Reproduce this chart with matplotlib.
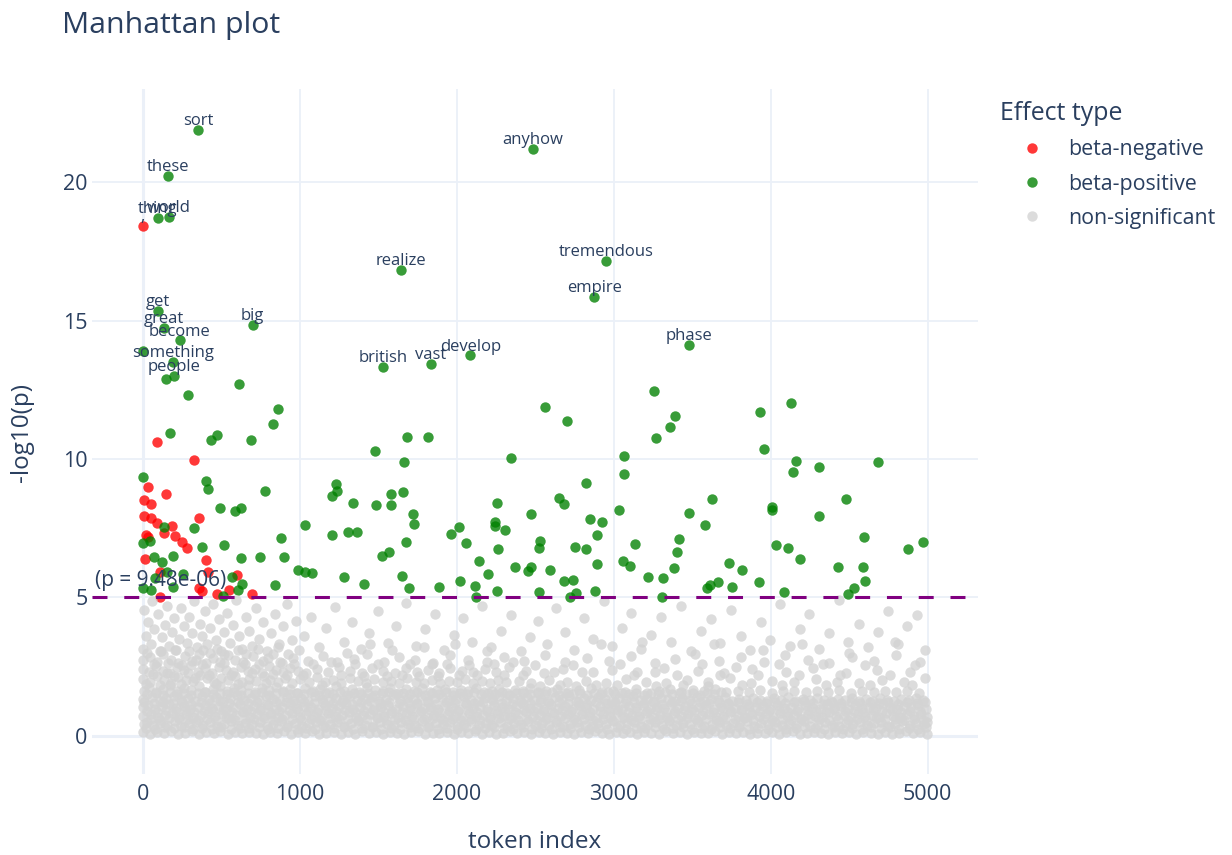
import matplotlib
matplotlib.use("Agg")
import matplotlib.pyplot as plt
from matplotlib.lines import Line2D

plt.rcParams['font.family'] = ['Open Sans', 'DejaVu Sans']

# --- data (token index, -log10 p) ---
threshold_p = 9.48e-06
threshold_y = 5.023

# labelled hits: word, token index, -log10(p), effect
top_hits = [
    ('sort', 352, 21.9, 'pos'), ('these', 159, 20.23, 'pos'), ('thing', 96, 18.71, 'pos'),
    ('world', 168, 18.73, 'pos'), (',', 0, 18.41, 'neg'), ('get', 96, 15.35, 'pos'),
    ('great', 136, 14.74, 'pos'), ('big', 701, 14.83, 'pos'), ('become', 236, 14.28, 'pos'),
    ('something', 195, 13.51, 'pos'), ('people', 199, 13.0, 'pos'), ('realize', 1645, 16.82, 'pos'),
    ('british', 1529, 13.31, 'pos'), ('vast', 1836, 13.44, 'pos'), ('develop', 2087, 13.74, 'pos'),
    ('anyhow', 2484, 21.21, 'pos'), ('tremendous', 2951, 17.15, 'pos'), ('empire', 2875, 15.86, 'pos'),
    ('phase', 3482, 14.11, 'pos'),
]

neg_points = [
    (94, 10.6), (324, 9.96), (31, 8.98), (150, 8.72), (6, 8.53), (53, 8.37), (8, 7.94), (55, 7.87),
    (89, 7.68), (357, 7.86), (189, 7.56), (137, 7.34), (23, 7.26), (36, 7.18), (204, 7.2), (248, 6.99),
    (282, 6.78), (17, 6.37), (403, 6.34), (110, 5.9), (416, 5.9), (603, 5.79), (361, 5.33), (376, 5.23),
    (471, 5.13), (548, 5.26), (694, 5.12), (108, 5.02),
]

pos_points = [
    (0, 13.91), (148, 12.88), (290, 12.3), (611, 12.69), (859, 11.8), (828, 11.28), (174, 10.93),
    (476, 10.85), (435, 10.67), (687, 10.68), (4, 9.33), (403, 9.21), (414, 8.91), (776, 8.85),
    (492, 8.21), (588, 8.11), (624, 8.23), (1031, 7.6), (1206, 7.25), (1206, 8.67), (1231, 9.08),
    (1240, 8.85), (330, 7.51), (134, 7.53), (4, 6.95), (46, 7.05), (379, 6.81), (520, 6.89),
    (878, 7.13), (196, 6.49), (75, 6.46), (121, 6.26), (626, 6.41), (749, 6.47), (898, 6.45),
    (991, 5.99), (1034, 5.9), (1076, 5.87), (843, 5.43), (257, 5.84), (155, 5.93), (78, 5.69),
    (4, 5.33), (51, 5.26), (569, 5.74), (609, 5.26), (634, 5.47), (513, 5.03), (195, 5.38),
    (1310, 7.35), (1363, 7.35), (1341, 8.42), (1280, 5.72), (1410, 5.47), (1482, 10.27), (1486, 8.32),
    (1526, 6.5), (1567, 6.64), (1580, 8.73), (1583, 8.33), (1660, 8.8), (1666, 9.9), (1685, 10.8),
    (1815, 10.78), (1724, 8.01), (1730, 7.65), (1675, 7.0), (1650, 5.78), (1698, 5.35), (1889, 5.38),
    (1962, 7.28), (2017, 7.53), (2061, 6.97), (2023, 5.59), (2117, 5.41), (2121, 5.0), (2144, 6.31),
    (2201, 5.84), (2246, 7.73), (2246, 7.58), (2259, 8.41), (2310, 7.43), (2263, 6.76), (2259, 5.22),
    (2344, 10.03), (2373, 6.09), (2454, 5.96), (2475, 6.08), (2475, 8.01), (2522, 6.77), (2532, 7.04),
    (2562, 11.86), (2592, 6.0), (2522, 5.2), (2654, 8.58), (2682, 8.37), (2703, 11.38), (2682, 5.58),
    (2743, 5.61), (2722, 5.02), (2758, 5.14), (2754, 6.83), (2822, 6.73), (2824, 9.13), (2849, 7.82),
    (2924, 7.71), (2896, 7.26), (2894, 6.2), (2883, 5.22), (3032, 8.15), (3068, 10.12), (3068, 9.47),
    (3057, 6.31), (3102, 6.14), (3136, 6.94), (3217, 5.74), (3254, 12.46), (3390, 11.56), (3359, 11.14),
    (3271, 10.77), (3932, 11.68), (3957, 10.37), (4129, 12.02), (4159, 9.94), (4142, 9.52), (3480, 8.06),
    (3624, 8.57), (3581, 7.62), (4008, 8.27), (4008, 8.16), (3414, 7.1), (3405, 6.62), (3386, 6.06),
    (3316, 5.7), (3307, 5.02), (3592, 5.33), (3613, 5.44), (3666, 5.54), (3732, 6.25), (3820, 5.99),
    (3755, 5.38), (3927, 5.57), (4034, 6.89), (4111, 6.78), (4087, 5.18), (4187, 6.39), (4310, 9.71),
    (4683, 9.88), (4310, 7.93), (4478, 8.54), (4429, 6.09), (4594, 7.18), (4588, 6.08), (4601, 5.6),
    (4529, 5.35), (4494, 5.11), (4876, 6.75), (4972, 6.99),
]

# non-significant tokens, estimated (dense band near 0, thinning upward)
gray_row1 = [
    (0, .12), (44, .06), (90, .15), (133, .08), (181, .18), (224, .05), (270, .11), (313, .16), (360, .07),
    (404, .13), (452, .09), (495, .17), (541, .05), (585, .12), (632, .08), (676, .15), (720, .1), (767, .06),
    (811, .14), (856, .09), (902, .17), (946, .05), (991, .12), (1035, .08), (1081, .16), (1125, .06),
    (1170, .11), (1216, .14), (1260, .07), (1306, .12), (1351, .05), (1395, .16), (1441, .09), (1486, .13),
    (1530, .06), (1576, .15), (1620, .1), (1666, .07), (1711, .13), (1755, .18), (1801, .06), (1846, .11),
    (1890, .08), (1936, .15), (1981, .05), (2025, .12), (2071, .09), (2116, .17), (2160, .07), (2206, .13),
    (2251, .06), (2295, .11), (2341, .16), (2386, .08), (2430, .12), (2476, .05), (2521, .14), (2565, .09),
    (2611, .07), (2656, .15), (2700, .11), (2746, .06), (2791, .13), (2835, .08), (2881, .16), (2926, .1),
    (2970, .05), (3016, .12), (3061, .08), (3105, .15), (3151, .07), (3196, .13), (3240, .1), (3286, .05),
    (3331, .16), (3375, .09), (3421, .12), (3466, .06), (3510, .14), (3556, .08), (3601, .11), (3645, .17),
    (3691, .06), (3736, .12), (3780, .09), (3826, .15), (3871, .05), (3915, .11), (3961, .08), (4006, .14),
    (4050, .07), (4096, .12), (4141, .16), (4185, .06), (4231, .1), (4276, .13), (4320, .08), (4366, .05),
    (4411, .15), (4455, .09), (4501, .12), (4546, .06), (4590, .14), (4636, .1), (4681, .07), (4725, .13),
    (4771, .05), (4816, .11), (4860, .16), (4906, .08), (4951, .12), (4996, .07),
]
gray_row1b = [
    (20, .28), (80, .25), (140, .31), (200, .27), (260, .3), (320, .24), (380, .29), (440, .26), (500, .32),
    (560, .25), (620, .29), (680, .27), (740, .31), (800, .24), (860, .28), (920, .3), (980, .26), (1040, .29),
    (1100, .25), (1160, .31), (1220, .27), (1280, .3), (1340, .24), (1400, .28), (1460, .32), (1520, .26),
    (1580, .29), (1640, .25), (1700, .3), (1760, .27), (1820, .31), (1880, .24), (1940, .28), (2000, .26),
    (2060, .3), (2120, .25), (2180, .29), (2240, .32), (2300, .27), (2360, .24), (2420, .3), (2480, .26),
    (2540, .29), (2600, .25), (2660, .31), (2720, .27), (2780, .3), (2840, .24), (2900, .28), (2960, .26),
    (3020, .31), (3080, .25), (3140, .29), (3200, .27), (3260, .3), (3320, .24), (3380, .28), (3440, .32),
    (3500, .26), (3560, .29), (3620, .25), (3680, .3), (3740, .27), (3800, .31), (3860, .24), (3920, .28),
    (3980, .26), (4040, .3), (4100, .25), (4160, .29), (4220, .32), (4280, .27), (4340, .24), (4400, .3),
    (4460, .26), (4520, .29), (4580, .25), (4640, .31), (4700, .27), (4760, .3), (4820, .24), (4880, .28),
    (4940, .26), (4990, .3),
]
gray_row2 = [
    (8, .42), (27, .5), (66, .38), (112, .47), (156, .4), (203, .53), (247, .36), (292, .45), (337, .51),
    (382, .39), (427, .48), (473, .35), (518, .44), (562, .52), (608, .37), (653, .46), (698, .41), (744, .5),
    (789, .36), (833, .44), (879, .53), (924, .39), (968, .47), (1013, .35), (1059, .45), (1104, .51),
    (1148, .38), (1194, .43), (1239, .49), (1283, .36), (1329, .46), (1374, .52), (1418, .4), (1464, .35),
    (1509, .48), (1553, .42), (1599, .37), (1644, .5), (1688, .44), (1734, .39), (1779, .53), (1823, .36),
    (1869, .46), (1914, .41), (1958, .49), (2004, .35), (2049, .44), (2093, .52), (2139, .38), (2184, .47),
    (2228, .4), (2274, .5), (2319, .36), (2363, .45), (2409, .42), (2454, .53), (2498, .37), (2544, .46),
    (2589, .39), (2633, .49), (2679, .35), (2724, .44), (2768, .51), (2814, .4), (2859, .36), (2903, .47),
    (2949, .43), (2994, .52), (3038, .38), (3084, .45), (3129, .5), (3173, .36), (3219, .42), (3264, .48),
    (3308, .39), (3354, .53), (3399, .37), (3443, .46), (3489, .41), (3534, .5), (3578, .35), (3624, .44),
    (3669, .49), (3713, .38), (3759, .47), (3804, .4), (3848, .52), (3894, .36), (3939, .45), (3983, .42),
    (4029, .5), (4074, .37), (4118, .46), (4164, .39), (4209, .53), (4253, .35), (4299, .44), (4344, .48),
    (4388, .4), (4434, .36), (4479, .47), (4523, .43), (4569, .51), (4614, .38), (4658, .45), (4704, .49),
    (4749, .36), (4793, .42), (4839, .52), (4884, .39), (4928, .46), (4974, .41), (4998, .5),
]
gray_row2b = [
    (50, .6), (110, .57), (170, .63), (230, .59), (290, .62), (350, .56), (410, .61), (470, .58), (530, .64),
    (590, .57), (650, .61), (710, .59), (770, .63), (830, .56), (890, .6), (950, .62), (1010, .58),
    (1070, .61), (1130, .57), (1190, .63), (1250, .59), (1310, .62), (1370, .56), (1430, .6), (1490, .64),
    (1550, .58), (1610, .61), (1670, .57), (1730, .62), (1790, .59), (1850, .63), (1910, .56), (1970, .6),
    (2030, .58), (2090, .62), (2150, .57), (2210, .61), (2270, .64), (2330, .59), (2390, .56), (2450, .62),
    (2510, .58), (2570, .61), (2630, .57), (2690, .63), (2750, .59), (2810, .62), (2870, .56), (2930, .6),
    (2990, .58), (3050, .63), (3110, .57), (3170, .61), (3230, .59), (3290, .62), (3350, .56), (3410, .6),
    (3470, .64), (3530, .58), (3590, .61), (3650, .57), (3710, .62), (3770, .59), (3830, .63), (3890, .56),
    (3950, .6), (4010, .58), (4070, .62), (4130, .57), (4190, .61), (4250, .64), (4310, .59), (4370, .56),
    (4430, .62), (4490, .58), (4550, .61), (4610, .57), (4670, .63), (4730, .59), (4790, .62), (4850, .56),
    (4910, .6), (4970, .58),
]
gray_row3 = [
    (3, .72), (52, .8), (97, .67), (141, .76), (188, .83), (232, .69), (279, .78), (321, .66), (369, .74),
    (413, .82), (459, .7), (503, .79), (548, .65), (594, .75), (638, .84), (684, .68), (729, .77), (773, .71),
    (819, .8), (864, .66), (908, .74), (954, .83), (999, .69), (1043, .78), (1089, .72), (1134, .65),
    (1178, .81), (1224, .7), (1269, .76), (1313, .84), (1359, .67), (1404, .75), (1448, .8), (1494, .68),
    (1539, .73), (1583, .82), (1629, .66), (1674, .77), (1718, .71), (1764, .84), (1809, .69), (1853, .75),
    (1899, .65), (1944, .8), (1988, .72), (2034, .67), (2079, .83), (2123, .7), (2169, .76), (2214, .66),
    (2258, .81), (2304, .73), (2349, .68), (2393, .78), (2439, .85), (2484, .7), (2528, .75), (2574, .66),
    (2619, .82), (2663, .71), (2709, .77), (2754, .68), (2798, .8), (2844, .73), (2889, .65), (2933, .79),
    (2979, .7), (3024, .84), (3068, .67), (3114, .76), (3159, .72), (3203, .81), (3249, .66), (3294, .74),
    (3338, .69), (3384, .83), (3429, .71), (3473, .78), (3519, .65), (3564, .75), (3608, .8), (3654, .68),
    (3699, .73), (3743, .84), (3789, .7), (3834, .66), (3878, .79), (3924, .72), (3969, .77), (4013, .67),
    (4059, .82), (4104, .7), (4148, .75), (4194, .65), (4239, .8), (4283, .73), (4329, .68), (4374, .84),
    (4418, .71), (4464, .76), (4509, .66), (4553, .81), (4599, .7), (4644, .74), (4688, .69), (4734, .83),
    (4779, .72), (4823, .67), (4869, .78), (4914, .73), (4958, .8), (4993, .68),
]
gray_row3b = [
    (30, .9), (90, .87), (150, .93), (210, .89), (270, .92), (330, .86), (390, .91), (450, .88), (510, .94),
    (570, .87), (630, .91), (690, .89), (750, .93), (810, .86), (870, .9), (930, .92), (990, .88), (1050, .91),
    (1110, .87), (1170, .93), (1230, .89), (1290, .92), (1350, .86), (1410, .9), (1470, .94), (1530, .88),
    (1590, .91), (1650, .87), (1710, .92), (1770, .89), (1830, .93), (1890, .86), (1950, .9), (2010, .88),
    (2070, .92), (2130, .87), (2190, .91), (2250, .94), (2310, .89), (2370, .86), (2430, .92), (2490, .88),
    (2550, .91), (2610, .87), (2670, .93), (2730, .89), (2790, .92), (2850, .86), (2910, .9), (2970, .88),
    (3030, .93), (3090, .87), (3150, .91), (3210, .89), (3270, .92), (3330, .86), (3390, .9), (3450, .94),
    (3510, .88), (3570, .91), (3630, .87), (3690, .92), (3750, .89), (3810, .93), (3870, .86), (3930, .9),
    (3990, .88), (4050, .92), (4110, .87), (4170, .91), (4230, .94), (4290, .89), (4350, .86), (4410, .92),
    (4470, .88), (4530, .91), (4590, .87), (4650, .93), (4710, .89), (4770, .92), (4830, .86), (4890, .9),
    (4950, .88),
]
gray_row4 = [
    (5, 1.02), (35, 1.1), (79, .97), (124, 1.06), (170, 1.13), (214, .99), (260, 1.08), (304, .95),
    (351, 1.04), (394, 1.12), (441, 1.0), (486, 1.09), (530, .96), (576, 1.05), (620, 1.14), (666, .98),
    (711, 1.07), (755, 1.01), (801, 1.1), (846, .95), (890, 1.04), (936, 1.13), (981, .99), (1025, 1.08),
    (1071, 1.02), (1116, .96), (1160, 1.11), (1206, 1.0), (1251, 1.06), (1295, 1.14), (1341, .97),
    (1386, 1.05), (1430, 1.1), (1476, .98), (1521, 1.03), (1565, 1.12), (1611, .96), (1656, 1.07),
    (1700, 1.01), (1746, 1.14), (1791, .99), (1835, 1.05), (1881, .95), (1926, 1.1), (1970, 1.02),
    (2016, .97), (2061, 1.13), (2105, 1.0), (2151, 1.06), (2196, .96), (2240, 1.11), (2286, 1.03),
    (2331, .98), (2375, 1.08), (2421, 1.15), (2466, 1.0), (2510, 1.05), (2556, .96), (2601, 1.12),
    (2645, 1.01), (2691, 1.07), (2736, .98), (2780, 1.1), (2826, 1.03), (2871, .95), (2915, 1.09),
    (2961, 1.0), (3006, 1.14), (3050, .97), (3096, 1.06), (3141, 1.02), (3185, 1.11), (3231, .96),
    (3276, 1.04), (3320, .99), (3366, 1.13), (3411, 1.01), (3455, 1.08), (3501, .95), (3546, 1.05),
    (3590, 1.1), (3636, .98), (3681, 1.03), (3725, 1.14), (3771, 1.0), (3816, .96), (3860, 1.09),
    (3906, 1.02), (3951, 1.07), (3995, .97), (4041, 1.12), (4086, 1.0), (4130, 1.05), (4176, .95),
    (4221, 1.1), (4265, 1.03), (4311, .98), (4356, 1.14), (4400, 1.01), (4446, 1.06), (4491, .96),
    (4535, 1.11), (4581, 1.0), (4626, 1.04), (4670, .99), (4716, 1.13), (4761, 1.02), (4805, .97),
    (4851, 1.08), (4896, 1.03), (4940, 1.1), (4988, .98),
]
gray_row4b = [
    (10, 1.2), (70, 1.17), (130, 1.23), (190, 1.19), (250, 1.22), (310, 1.16), (370, 1.21), (430, 1.18),
    (490, 1.24), (550, 1.17), (610, 1.21), (670, 1.19), (730, 1.23), (790, 1.16), (850, 1.2), (910, 1.22),
    (970, 1.18), (1030, 1.21), (1090, 1.17), (1150, 1.23), (1210, 1.19), (1270, 1.22), (1330, 1.16),
    (1390, 1.2), (1450, 1.24), (1510, 1.18), (1570, 1.21), (1630, 1.17), (1690, 1.22), (1750, 1.19),
    (1810, 1.23), (1870, 1.16), (1930, 1.2), (1990, 1.18), (2050, 1.22), (2110, 1.17), (2170, 1.21),
    (2230, 1.24), (2290, 1.19), (2350, 1.16), (2410, 1.22), (2470, 1.18), (2530, 1.21), (2590, 1.17),
    (2650, 1.23), (2710, 1.19), (2770, 1.22), (2830, 1.16), (2890, 1.2), (2950, 1.18), (3010, 1.23),
    (3070, 1.17), (3130, 1.21), (3190, 1.19), (3250, 1.22), (3310, 1.16), (3370, 1.2), (3430, 1.24),
    (3490, 1.18), (3550, 1.21), (3610, 1.17), (3670, 1.22), (3730, 1.19), (3790, 1.23), (3850, 1.16),
    (3910, 1.2), (3970, 1.18), (4030, 1.22), (4090, 1.17), (4150, 1.21), (4210, 1.24), (4270, 1.19),
    (4330, 1.16), (4390, 1.22), (4450, 1.18), (4510, 1.21), (4570, 1.17), (4630, 1.23), (4690, 1.19),
    (4750, 1.22), (4810, 1.16), (4870, 1.2), (4930, 1.18), (4985, 1.22),
]
gray_row5 = [
    (2, 1.32), (62, 1.4), (108, 1.27), (151, 1.36), (197, 1.45), (241, 1.29), (288, 1.38), (331, 1.26),
    (378, 1.43), (422, 1.31), (468, 1.39), (512, 1.25), (558, 1.35), (603, 1.46), (648, 1.3), (693, 1.37),
    (738, 1.28), (783, 1.42), (828, 1.33), (873, 1.26), (918, 1.4), (963, 1.3), (1008, 1.36), (1053, 1.27),
    (1098, 1.44), (1143, 1.32), (1188, 1.26), (1233, 1.38), (1278, 1.3), (1323, 1.45), (1368, 1.28),
    (1413, 1.35), (1458, 1.41), (1503, 1.27), (1548, 1.33), (1593, 1.46), (1638, 1.29), (1683, 1.37),
    (1728, 1.31), (1773, 1.42), (1818, 1.26), (1863, 1.35), (1908, 1.4), (1953, 1.28), (1998, 1.33),
    (2043, 1.45), (2088, 1.3), (2133, 1.27), (2178, 1.38), (2223, 1.32), (2268, 1.43), (2313, 1.26),
    (2358, 1.36), (2403, 1.3), (2448, 1.41), (2493, 1.28), (2538, 1.34), (2583, 1.26), (2628, 1.39),
    (2673, 1.31), (2718, 1.44), (2763, 1.27), (2808, 1.35), (2853, 1.29), (2898, 1.4), (2943, 1.32),
    (2988, 1.26), (3033, 1.37), (3078, 1.3), (3123, 1.42), (3168, 1.28), (3213, 1.34), (3258, 1.27),
    (3303, 1.38), (3348, 1.31), (3393, 1.25), (3438, 1.36), (3483, 1.3), (3528, 1.41), (3573, 1.27),
    (3618, 1.33), (3663, 1.29), (3708, 1.39), (3753, 1.26), (3798, 1.32), (3843, 1.28), (3888, 1.37),
    (3933, 1.3), (3978, 1.26), (4023, 1.35), (4068, 1.29), (4113, 1.4), (4158, 1.27), (4203, 1.33),
    (4248, 1.28), (4293, 1.36), (4338, 1.3), (4383, 1.26), (4428, 1.34), (4473, 1.29), (4518, 1.38),
    (4563, 1.27), (4608, 1.32), (4653, 1.26), (4698, 1.35), (4743, 1.3), (4788, 1.27), (4833, 1.33),
    (4878, 1.28), (4923, 1.36), (4968, 1.3),
]
gray_row5b = [
    (25, 1.5), (85, 1.55), (130, 1.48), (174, 1.58), (219, 1.5), (264, 1.56), (309, 1.47), (355, 1.53),
    (400, 1.59), (445, 1.49), (490, 1.55), (535, 1.51), (580, 1.58), (625, 1.47), (670, 1.54), (715, 1.5),
    (760, 1.57), (805, 1.48), (850, 1.53), (895, 1.59), (940, 1.49), (985, 1.55), (1030, 1.5), (1075, 1.57),
    (1120, 1.48), (1165, 1.54), (1210, 1.51), (1255, 1.58), (1300, 1.47), (1345, 1.55), (1390, 1.5),
    (1435, 1.56), (1480, 1.48), (1525, 1.53), (1570, 1.59), (1615, 1.49), (1660, 1.55), (1705, 1.51),
    (1750, 1.57), (1795, 1.47), (1840, 1.54), (1885, 1.5), (1930, 1.58), (1975, 1.48), (2020, 1.55),
    (2065, 1.52), (2110, 1.57), (2155, 1.49), (2200, 1.54), (2245, 1.5), (2290, 1.58), (2335, 1.47),
    (2380, 1.53), (2425, 1.56), (2470, 1.49), (2515, 1.55), (2560, 1.5), (2605, 1.57), (2650, 1.48),
    (2695, 1.53), (2740, 1.5), (2785, 1.56), (2830, 1.48), (2875, 1.54), (2920, 1.5), (2965, 1.57),
    (3010, 1.49), (3055, 1.53), (3100, 1.5), (3145, 1.56), (3190, 1.48), (3235, 1.54), (3280, 1.5),
    (3325, 1.57), (3370, 1.49), (3415, 1.53), (3460, 1.5), (3505, 1.56), (3550, 1.48), (3595, 1.54),
    (3640, 1.5), (3685, 1.57),
]
gray_row6 = [
    (6, 1.62), (40, 1.75), (86, 1.58), (129, 1.7), (176, 1.82), (219, 1.6), (265, 1.73), (310, 1.65),
    (356, 1.8), (399, 1.57), (446, 1.69), (490, 1.78), (536, 1.61), (580, 1.72), (626, 1.66), (670, 1.83),
    (716, 1.59), (760, 1.71), (806, 1.64), (850, 1.77), (896, 1.6), (940, 1.68), (986, 1.56), (1032, 1.74),
    (1083, 1.62), (1131, 1.69), (1184, 1.57), (1233, 1.78), (1281, 1.63), (1332, 1.7), (1380, 1.58),
    (1431, 1.75), (1479, 1.65), (1530, 1.6), (1578, 1.72), (1629, 1.56), (1677, 1.67), (1728, 1.61),
    (1776, 1.73), (1827, 1.58), (1875, 1.64), (1926, 1.7), (1974, 1.57), (2025, 1.66), (2073, 1.6),
    (2124, 1.74), (2172, 1.58), (2223, 1.63), (2271, 1.69), (2322, 1.56), (2370, 1.65), (2421, 1.6),
    (2469, 1.71), (2520, 1.57), (2568, 1.62), (2640, 1.68), (2712, 1.58), (2781, 1.64), (2856, 1.72),
    (2928, 1.57), (2998, 1.63), (3071, 1.59), (3142, 1.7), (3214, 1.56), (3288, 1.61), (3357, 1.67),
    (3430, 1.58), (3503, 1.64), (3574, 1.6), (3646, 1.69), (3718, 1.57), (3790, 1.62), (3861, 1.58),
    (3934, 1.66), (4006, 1.56), (4077, 1.6), (4150, 1.63), (4222, 1.57), (4294, 1.61), (4366, 1.58),
    (4438, 1.65), (4510, 1.56), (4582, 1.6), (4655, 1.57), (4727, 1.62), (4800, 1.58), (4871, 1.61),
    (4943, 1.56),
]
gray_row7 = [
    (3, 2.05), (47, 1.95), (93, 2.15), (137, 2.0), (182, 1.92), (228, 2.12), (273, 2.03), (318, 1.96),
    (364, 2.18), (408, 2.07), (453, 1.94), (499, 2.1), (543, 2.0), (589, 2.14), (633, 1.93), (679, 2.06),
    (724, 1.98), (770, 2.16), (814, 2.02), (860, 1.95), (905, 2.09), (951, 1.91), (1003, 2.04), (1057, 1.95),
    (1108, 2.12), (1162, 1.93), (1213, 2.02), (1266, 1.9), (1318, 2.08), (1371, 1.96), (1423, 1.92),
    (1476, 2.05), (1528, 1.94), (1581, 1.99), (1633, 1.91), (1686, 2.07), (1738, 1.95), (1791, 1.92),
    (1843, 2.01), (1896, 1.9), (1948, 1.97), (2001, 1.93), (2053, 2.04), (2106, 1.91), (2158, 1.96),
    (2211, 1.9), (2263, 2.02), (2316, 1.94), (2395, 1.99), (2472, 1.91), (2590, 2.03), (2705, 1.93),
    (2822, 1.98), (2950, 1.92), (3080, 2.05), (3205, 1.95), (3330, 1.9), (3470, 2.01), (3602, 1.94),
    (3739, 2.08), (3874, 1.92), (4010, 1.99), (4148, 1.93), (4290, 2.06), (4420, 1.95), (4560, 1.91),
    (4710, 2.02), (4850, 1.94), (4980, 2.1),
]
gray_row8 = [
    (1, 2.4), (38, 2.3), (84, 2.52), (127, 2.35), (173, 2.28), (217, 2.47), (263, 2.38), (307, 2.55),
    (353, 2.31), (397, 2.44), (443, 2.27), (488, 2.5), (533, 2.36), (578, 2.29), (623, 2.48), (668, 2.33),
    (713, 2.42), (758, 2.26), (803, 2.53), (848, 2.37), (894, 2.3), (939, 2.46), (987, 2.34), (1040, 2.27),
    (1110, 2.41), (1182, 2.3), (1253, 2.5), (1320, 2.32), (1394, 2.26), (1462, 2.43), (1533, 2.35),
    (1606, 2.28), (1678, 2.45), (1745, 2.31), (1820, 2.38), (1890, 2.27), (1960, 2.44), (2035, 2.33),
    (2105, 2.29), (2180, 2.4), (2250, 2.3), (2330, 2.47), (2440, 2.34), (2555, 2.28), (2680, 2.42),
    (2800, 2.31), (2990, 2.37), (3150, 2.29), (3320, 2.45), (3540, 2.33), (3700, 2.27), (3880, 2.4),
    (4100, 2.3), (4270, 2.44), (4480, 2.28), (4680, 2.36), (4890, 2.31),
]
gray_row9 = [
    (4, 2.72), (45, 2.85), (88, 2.66), (132, 2.94), (178, 2.75), (222, 2.63), (268, 2.88), (313, 2.7),
    (358, 2.97), (403, 2.62), (450, 2.81), (495, 2.68), (541, 2.92), (586, 2.74), (640, 2.65), (700, 2.87),
    (765, 2.71), (830, 2.96), (890, 2.64), (955, 2.79), (1050, 2.7), (1150, 2.88), (1240, 2.66),
    (1345, 2.78), (1430, 2.95), (1540, 2.68), (1630, 2.83), (1735, 2.73), (1850, 2.64), (1960, 2.9),
    (2070, 2.72), (2190, 2.67), (2300, 2.86), (2430, 2.7), (2560, 2.93), (2690, 2.66), (2830, 2.8),
    (2970, 2.71), (3110, 2.89), (3260, 2.64), (3390, 2.77), (3520, 2.95), (3670, 2.69), (3810, 2.84),
    (3960, 2.66), (4090, 2.9), (4240, 2.73), (4370, 2.62), (4520, 2.86), (4660, 2.7), (4800, 2.93),
    (4950, 2.68),
]
gray_left_extra = [
    (20, 1.88), (65, 2.22), (110, 1.85), (155, 2.28), (200, 2.15), (245, 1.87), (290, 2.25), (335, 2.1),
    (380, 2.6), (425, 2.2), (470, 1.86), (515, 2.62), (560, 2.2), (605, 1.88), (650, 2.58), (695, 2.25),
    (740, 2.6), (785, 1.9), (830, 2.22), (875, 2.65), (920, 2.2), (965, 2.6), (25, 3.0), (70, 2.6),
    (115, 3.05), (160, 2.62), (205, 3.1), (250, 2.55), (295, 3.05), (340, 2.75), (385, 3.1), (430, 3.0),
    (475, 3.15), (520, 2.95), (610, 3.1), (660, 2.95), (735, 3.15), (800, 2.8), (860, 3.2), (925, 2.95),
]
gray_mid_extra = [
    (1020, 2.2), (1085, 2.6), (1140, 1.85), (1200, 2.65), (1260, 2.2), (1300, 3.0), (1355, 2.6),
    (1410, 2.15), (1450, 3.3), (1500, 2.6), (1555, 2.15), (1590, 3.1), (1650, 2.2), (1700, 2.6),
    (1760, 2.15), (1790, 3.2), (1840, 2.6), (1880, 2.15), (1940, 2.6), (1990, 3.3), (2015, 2.2),
    (2080, 2.55), (2130, 2.2), (2190, 3.05), (2240, 2.6), (2300, 2.2), (2360, 2.65), (2420, 2.2),
    (2500, 2.55), (2530, 1.8), (2620, 2.3), (2660, 1.85), (2740, 2.55), (2760, 1.8), (2870, 2.3),
    (2890, 1.85), (2920, 3.3), (3040, 2.6), (3020, 1.85), (3130, 2.2), (3180, 3.4), (3260, 2.3),
    (3270, 1.8), (3400, 2.2), (3440, 1.85), (3560, 2.6), (3600, 1.8), (3640, 3.3), (3680, 2.2),
    (3780, 2.5), (3820, 1.85), (3920, 2.2), (3950, 3.1), (4050, 2.6), (4070, 1.85), (4180, 2.2),
    (4200, 3.3), (4330, 2.6), (4350, 1.85), (4440, 2.2), (4500, 3.0), (4600, 2.55), (4630, 1.85),
    (4760, 2.2), (4790, 3.4), (4920, 2.55), (4900, 1.85),
]
gray_upper = [
    (2, 3.15), (18, 3.6), (35, 4.1), (8, 4.55), (52, 3.3), (70, 3.85), (95, 4.4), (60, 4.85), (110, 3.05),
    (125, 3.55), (140, 4.0), (155, 4.7), (168, 3.25), (185, 3.75), (200, 4.25), (215, 3.1), (230, 3.5),
    (245, 4.6), (262, 3.95), (280, 3.35), (296, 4.3), (312, 3.7), (330, 4.85), (345, 3.2), (362, 4.05),
    (380, 3.6), (395, 4.5), (412, 3.3), (430, 3.9), (448, 4.75), (466, 3.45), (483, 4.2), (500, 3.05),
    (520, 3.75), (538, 4.45), (557, 3.35), (575, 4.0), (596, 4.9), (615, 3.6), (634, 3.15), (655, 4.3),
    (676, 3.8), (698, 3.25), (720, 4.6), (742, 3.5), (768, 4.1), (790, 3.05), (815, 3.7), (840, 4.4),
    (866, 3.3), (893, 3.95), (920, 4.75), (948, 3.45), (975, 4.15), (995, 3.1),
    (1030, 3.6), (1075, 4.3), (1120, 3.2), (1170, 3.9), (1225, 4.65), (1280, 3.4), (1330, 4.1),
    (1390, 3.15), (1440, 3.7), (1500, 4.5), (1560, 3.35), (1615, 3.95), (1680, 4.8), (1740, 3.25),
    (1800, 3.85), (1860, 4.4), (1920, 3.1), (1985, 3.65), (2040, 4.25), (2100, 3.4), (2160, 4.7),
    (2220, 3.2), (2285, 3.8), (2345, 4.35), (2410, 3.05), (2470, 3.55), (2520, 4.15),
    (2575, 3.3), (2630, 4.6), (2690, 3.75), (2750, 3.1), (2810, 4.25), (2870, 3.5), (2935, 4.85),
    (2990, 3.25), (3050, 3.9), (3110, 4.45), (3175, 3.15), (3240, 3.65), (3300, 4.3), (3365, 3.4),
    (3430, 4.7), (3490, 3.05), (3555, 3.8), (3620, 4.2), (3680, 3.35), (3745, 4.55), (3810, 3.6),
    (3870, 3.1), (3935, 4.1), (3995, 3.45), (4060, 4.75), (4120, 3.25), (4185, 3.85), (4245, 4.4),
    (4310, 3.15), (4370, 3.7), (4435, 4.9), (4495, 3.4), (4560, 4.05), (4620, 3.2), (4685, 3.75),
    (4745, 4.5), (4810, 3.3), (4870, 3.95), (4930, 4.35), (4985, 3.1),
]

# --- colours / style (plotly white look) ---
font_col = '#2a3f5f'
grid_col = '#EBF0F8'
col_neg = '#FF0000'
col_pos = '#008000'
col_ns = '#D3D3D3'
alpha = 0.78
msize = 56

neg_all = neg_points + [(x, y) for w, x, y, e in top_hits if e == 'neg']
pos_all = pos_points + [(x, y) for w, x, y, e in top_hits if e == 'pos']
gray_all = (gray_row1 + gray_row1b + gray_row2 + gray_row2b + gray_row3 + gray_row3b + gray_row4 +
            gray_row4b + gray_row5 + gray_row5b + gray_row6 + gray_row7 + gray_row8 + gray_row9 +
            gray_left_extra + gray_mid_extra + gray_upper)

fig = plt.figure(figsize=(12.32, 8.55), dpi=100)
ax = fig.add_axes([0.0744, 0.0942, 0.7194, 0.8012])

ax.scatter([p[0] for p in neg_all], [p[1] for p in neg_all], s=msize, c=col_neg,
           alpha=alpha, linewidths=0, zorder=3)
ax.scatter([p[0] for p in pos_all], [p[1] for p in pos_all], s=msize, c=col_pos,
           alpha=alpha, linewidths=0, zorder=3)
ax.scatter([p[0] for p in gray_all], [p[1] for p in gray_all], s=msize, c=col_ns,
           alpha=alpha, linewidths=0, zorder=3)

for w, x, y, e in top_hits:
    ax.annotate(w, (x, y), xytext=(0, 3.5), textcoords='offset points', ha='center',
                va='baseline', fontsize=12, color=font_col, zorder=4)

# significance threshold
ax.axhline(threshold_y, color='#800080', lw=2.2, linestyle=(0, (4.9, 5.5)), zorder=5)
ax.annotate(f'(p = {threshold_p:.2e})', (0, threshold_y), xycoords=('axes fraction', 'data'),
            xytext=(2.5, 7.5), textcoords='offset points', ha='left', va='baseline',
            fontsize=15, color=font_col, zorder=6)

ax.set_xlim(-325, 5320)
ax.set_ylim(-1.4, 23.35)
ax.set_xticks([0, 1000, 2000, 3000, 4000, 5000])
ax.set_yticks([0, 5, 10, 15, 20])
ax.grid(True, color=grid_col, lw=1.3, zorder=0)
ax.axhline(0, color=grid_col, lw=2.2, zorder=1)
ax.axvline(0, color=grid_col, lw=2.2, zorder=1)
ax.set_axisbelow(True)
for s in ax.spines.values():
    s.set_visible(False)
ax.tick_params(length=0, labelsize=15.5, colors=font_col)
ax.tick_params(axis='y', pad=3)
ax.tick_params(axis='x', pad=7)

fig.text(535 / 1232, 1 - 842 / 855, 'token index', ha='center', va='center',
         fontsize=17.5, color=font_col)
fig.text(22 / 1232, 1 - 432 / 855, '-log10(p)', ha='center', va='center', rotation=90,
         fontsize=17.5, color=font_col)
fig.text(62 / 1232, 1 - 25 / 855, 'Manhattan plot', ha='left', va='center',
         fontsize=21.8, color=font_col)

handles = [Line2D([], [], ls='', marker='o', ms=7.5, mec='none', mfc=c, alpha=alpha)
           for c in (col_neg, col_pos, col_ns)]
leg = fig.legend(handles, ['beta-negative', 'beta-positive', 'non-significant'],
                 loc='upper left', bbox_to_anchor=(1000 / 1232, 1 - 101 / 855), frameon=False,
                 title='Effect type', alignment='left', fontsize=15.4, title_fontsize=17.9,
                 handlelength=3.0, handletextpad=0.19, labelspacing=0.62, borderpad=0,
                 borderaxespad=0)
for t in leg.get_texts():
    t.set_color(font_col)
leg.get_title().set_color(font_col)

fig.savefig('out.png', dpi=100)
